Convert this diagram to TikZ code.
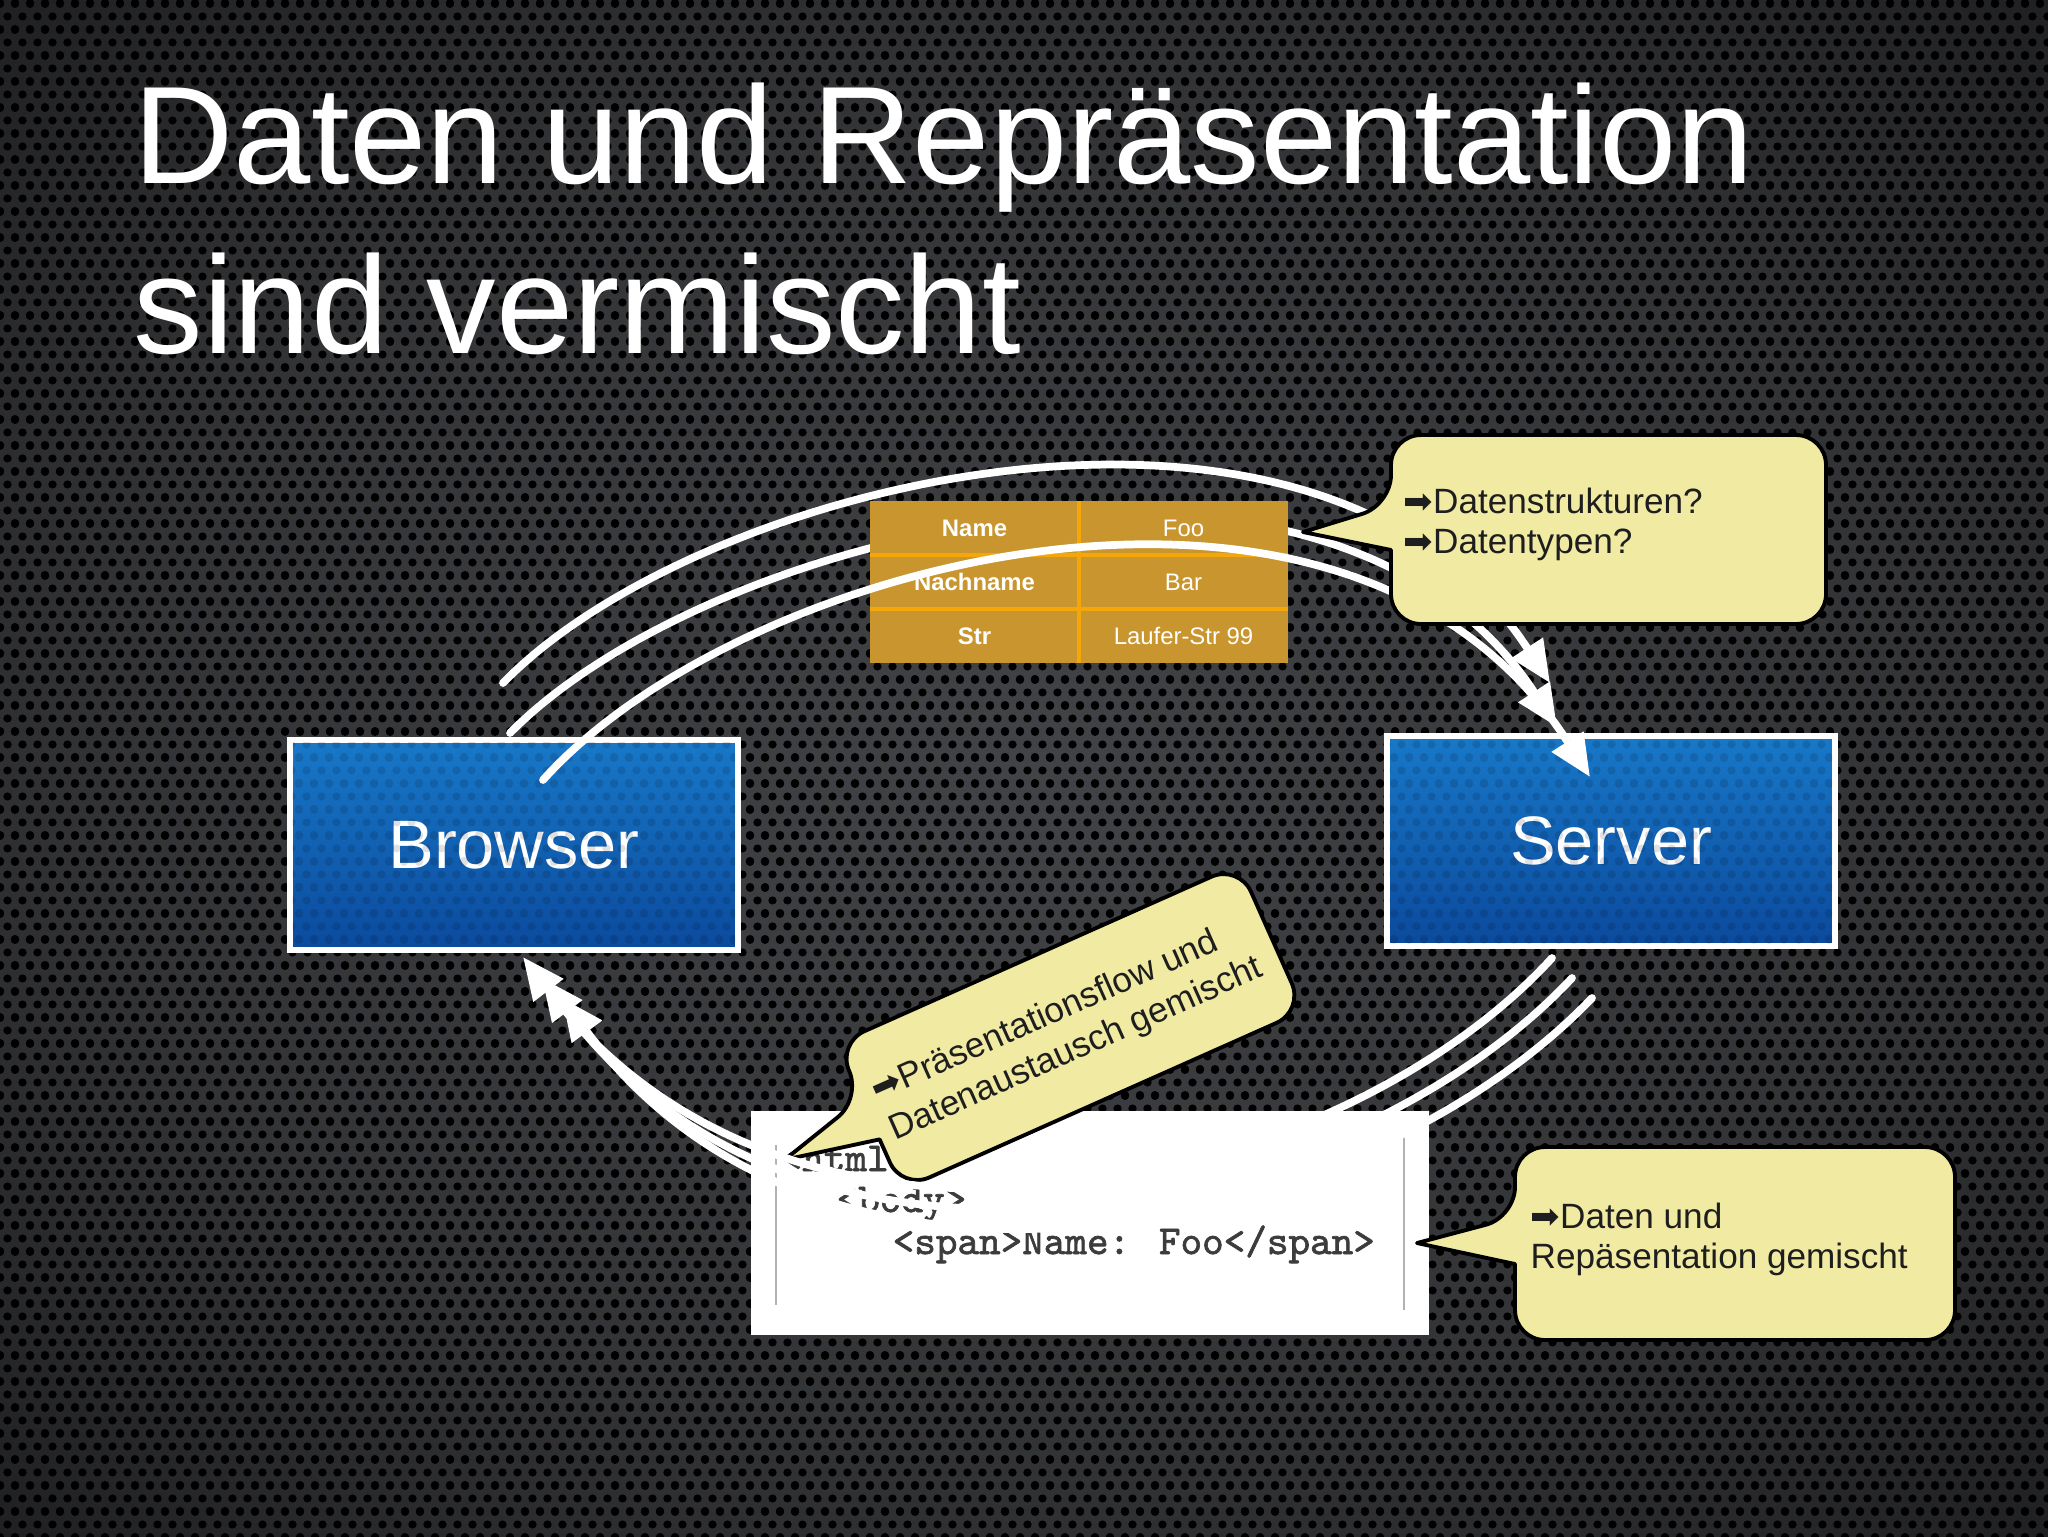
\documentclass[tikz,border=0pt]{standalone}
\usepackage{fontspec}
\setmainfont{Liberation Sans}
\newfontfamily\arrowfont{DejaVu Sans}
\newfontfamily\markupfont{lmmono10-regular}[Extension=.otf, FakeBold=1.6]
\usetikzlibrary{arrows.meta,patterns.meta}

\definecolor{platemid}{HTML}{424346}
\definecolor{platedark}{HTML}{0B0B0C}
\colorlet{platering}{platemid!72!platedark}
\definecolor{boxtop}{HTML}{1878C8}
\definecolor{boxbot}{HTML}{0B4A9D}
\definecolor{tablefill}{HTML}{C9952E}
\definecolor{tableline}{HTML}{F5A70A}
\definecolor{notefill}{HTML}{F0EAA3}
\definecolor{notetext}{HTML}{1E1E1E}
\definecolor{markupgray}{HTML}{3C3C3C}

\pgfdeclareradialshading{plate}{\pgfpoint{0bp}{0bp}}{color(0bp)=(platemid); color(22bp)=(platering); color(50bp)=(platedark)}

\tikzdeclarepattern{
  name=holes,
  type=uncolored,
  bottom left={(0mm,0mm)},
  top right={(1.5mm,2.6mm)},
  tile size={(1.5mm,2.6mm)},
  code={
    \fill (0mm,0mm) circle [radius=0.42mm];
    \fill (1.5mm,0mm) circle [radius=0.42mm];
    \fill (0mm,2.6mm) circle [radius=0.42mm];
    \fill (1.5mm,2.6mm) circle [radius=0.42mm];
    \fill (0.75mm,1.3mm) circle [radius=0.42mm];
  }
}

\newcommand\calloutarrow{{\arrowfont ➡}}

\tikzset{
  title/.style={anchor=base west, inner sep=0pt, text=white, font=\fontsize{39.5}{47}\selectfont},
  tier/.style={draw=white, line width=1.5pt, top color=boxtop, bottom color=boxbot,
    minimum width=44.8mm, minimum height=21mm, text=white, font=\fontsize{19.5}{23}\selectfont},
  cell/.style={fill=tablefill, minimum width=20.9mm, minimum height=5.4mm, inner sep=0pt,
    outer sep=0pt, text=white, font=\fontsize{6.8}{8}\selectfont},
  rowrule/.style={draw=tableline, line width=0.9pt},
  bubble/.style={draw=black, line width=1.1pt, fill=notefill, rounded corners=3mm, line join=round},
  note/.style={anchor=base west, inner sep=0pt, text=notetext, font=\fontsize{10}{12}\selectfont},
  markup line/.style={anchor=base west, inner sep=0pt, text=markupgray,
    font=\markupfont\fontsize{11.7}{14}\selectfont},
  chalk/.style={draw=white, line width=2.2pt, line cap=round, -{Triangle[length=4.2mm,width=3.6mm]}}
}

\begin{document}
\begin{tikzpicture}[x=0.1mm,y=-0.1mm]
\useasboundingbox (0,0) rectangle (2048,1536);

% Hintergrund: Lochblech
\shade[shading=plate] (0,0) rectangle (2048,1536);
\fill[pattern=holes, pattern color=black] (0,0) rectangle (2048,1536);

% Titel
\node[title] (title1) at (133,183) {Daten und Repräsentation};
\node[title] (title2) at (133,353) {sind vermischt};

% Browser und Server
\node[tier] (browser) at (514,845) {Browser};
\node[tier] (server) at (1611,841) {Server};
\foreach \n in {browser,server}
  \fill[pattern=holes, pattern color=black, opacity=.12]
    ([shift={(1.5pt,1.5pt)}]\n.south west) rectangle ([shift={(-1.5pt,-1.5pt)}]\n.north east);

% Code-Ausschnitt
\node[fill=white, minimum width=67.8mm, minimum height=22.4mm, inner sep=0pt] (page) at (1090,1223) {};
\draw[gray!60, line width=0.6pt] (776,1145) -- (776,1305) (1404,1136) -- (1404,1310);
\node[markup line] (html) at (780,1171) {<html>};
\node[markup line] (body) at (836,1212) {<body>};
\node[markup line] (span) at (892,1254) {<span>Name: Foo</span>};

% Anfrage: Boegen vom Browser zum Server
\foreach \i/\x/\y in {1/503/683, 2/510/733, 3/543/780}
  \coordinate (req\i) at (\x,\y);
\foreach \i/\x/\y in {1/1550/683, 2/1557/727, 3/1590/777}
  \coordinate (srv\i) at (\x,\y);
\foreach \i/\ax/\ay/\bx/\by in {1/700/480/1320/330, 2/710/530/1330/380}
  \draw[chalk] (req\i) .. controls (\ax,\ay) and (\bx,\by) .. (srv\i);

% Tabelle
\foreach \k/\v/\y [count=\r] in {Name/Foo/528, Nachname/Bar/582, Str/Laufer-Str 99/636} {
  \node[cell, font=\fontsize{6.8}{8}\selectfont\bfseries] (key\r) at (974.5,\y) {\k};
  \node[cell] (val\r) at (1183.5,\y) {\v};
}
\draw[rowrule] (key1.north east) -- (key3.south east);
\draw[rowrule] (key1.south west) -- (val1.south east);
\draw[rowrule] (key2.south west) -- (val2.south east);

\draw[chalk] (req3) .. controls (740,560) and (1350,400) .. (srv3);

% Sprechblase: Datenstrukturen
\draw[bubble] (1391,590) -- (1391,624) -- (1826,624) -- (1826,435) -- (1391,435) -- (1391,505)
  [sharp corners] -- (1303,532) -- (1391,550) -- cycle;
\node[note] (struct) at (1403,513) {\calloutarrow Datenstrukturen?};
\node[note] (types) at (1403,553) {\calloutarrow Datentypen?};

% Sprechblase: Daten und Repraesentation
\draw[bubble] (1515,1300) -- (1515,1340) -- (1955,1340) -- (1955,1147) -- (1515,1147) -- (1515,1217)
  [sharp corners] -- (1417,1243) -- (1515,1264) -- cycle;
\node[note] (mixed1) at (1530,1228) {\calloutarrow Daten und};
\node[note] (mixed2) at (1530,1268) {Repäsentation gemischt};

% Sprechblase: Praesentationsflow (gedreht)
\begin{scope}[shift={(1075,1025)}, rotate=24]
  \draw[bubble] (-225,50) -- (-225,80) -- (215,80) -- (215,-80) -- (-225,-80) -- (-225,-20)
    [sharp corners] -- (-320,5) -- (-225,25) -- cycle;
  \node[note, anchor=west, align=left, rotate=24] (flow) at (-212,2)
    {\calloutarrow Präsentationsflow und\\Datenaustausch gemischt};
\end{scope}

% Antwort: Boegen vom Server zum Browser
\foreach \i/\x/\y in {1/1552/958, 2/1572/978, 3/1592/998}
  \coordinate (resp\i) at (\x,\y);
\foreach \i/\x/\y in {1/523/957, 2/542/978, 3/562/998}
  \coordinate (brw\i) at (\x,\y);
\foreach \i/\ax/\ay/\bx/\by in {1/1340/1190/800/1320, 2/1355/1210/815/1340, 3/1370/1230/830/1360}
  \draw[chalk] (resp\i) .. controls (\ax,\ay) and (\bx,\by) .. (brw\i);

\end{tikzpicture}
\end{document}
